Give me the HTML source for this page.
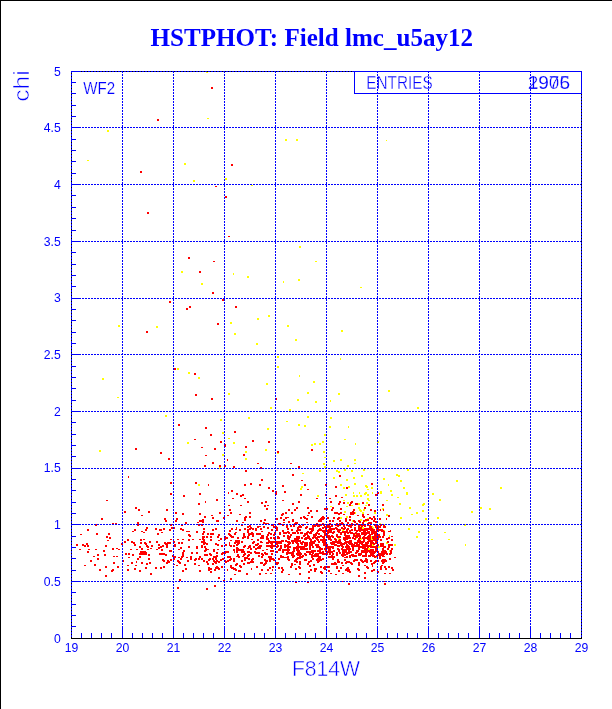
<!DOCTYPE html>
<html><head><meta charset="utf-8"><title>HSTPHOT: Field lmc_u5ay12</title>
<style>html,body{margin:0;padding:0;background:#fff;width:612px;height:709px;overflow:hidden}</style></head>
<body>
<svg width="612" height="709" viewBox="0 0 612 709" style="display:block;position:absolute;left:0;top:0">
<rect x="0" y="0" width="612" height="709" fill="#fff"/>
<g shape-rendering="crispEdges">
<rect x="0" y="0" width="612" height="1" fill="#000"/><rect x="0" y="0" width="1" height="709" fill="#000"/>
</g>
<path shape-rendering="crispEdges" fill="#ffff00" d="M206 71h2v2h-2zM207 118h2v1h-2zM107 130h2v2h-2zM87 160h2v1h-2zM184 163h2v2h-2zM193 180h2v2h-2zM285 139h2v2h-2zM296 139h2v2h-2zM225 178h2v2h-2zM251 185h2v1h-2zM386 140h1v1h-1zM388 390h2v2h-2zM417 407h2v2h-2zM379 433h1v1h-1zM377 441h2v2h-2zM181 271h2v2h-2zM201 283h2v2h-2zM118 325h2v2h-2zM156 326h2v2h-2zM177 368h2v2h-2zM188 372h2v2h-2zM198 377h2v2h-2zM102 378h2v2h-2zM117 397h2v1h-2zM299 246h2v2h-2zM315 261h2v1h-2zM233 273h1v2h-1zM247 276h2v2h-2zM283 281h1v2h-1zM298 279h2v2h-2zM360 287h2v1h-2zM268 315h2v2h-2zM257 318h2v2h-2zM230 322h2v2h-2zM287 325h2v2h-2zM234 333h2v2h-2zM341 330h2v2h-2zM295 339h2v2h-2zM256 343h2v2h-2zM277 356h2v2h-2zM340 358h1v2h-1zM277 366h2v2h-2zM299 375h1v2h-1zM313 381h2v2h-2zM266 383h2v2h-2zM326 380h2v1h-2zM228 393h2v2h-2zM307 392h2v2h-2zM338 393h2v2h-2zM297 399h2v2h-2zM330 400h1v2h-1zM315 401h2v2h-2zM270 407h2v2h-2zM289 409h2v2h-2zM165 415h2v2h-2zM220 419h2v2h-2zM222 432h2v2h-2zM187 442h2v2h-2zM99 450h2v2h-2zM222 454h2v2h-2zM219 467h2v2h-2zM198 484h2v2h-2zM248 417h2v2h-2zM267 428h2v2h-2zM228 438h2v1h-2zM233 442h2v2h-2zM265 449h2v2h-2zM245 451h2v2h-2zM245 458h2v2h-2zM307 416h2v2h-2zM286 421h2v1h-2zM298 424h2v2h-2zM304 425h2v2h-2zM324 434h2v2h-2zM322 441h2v2h-2zM319 443h2v2h-2zM314 443h2v2h-2zM311 444h2v2h-2zM277 453h2v1h-2zM323 451h2v2h-2zM324 457h2v1h-2zM323 463h2v2h-2zM324 466h2v2h-2zM289 468h2v2h-2zM319 470h2v2h-2zM302 473h2v1h-2zM301 486h2v2h-2zM300 488h2v2h-2zM317 495h2v2h-2zM330 417h2v2h-2zM329 426h2v2h-2zM348 426h1v2h-1zM344 439h2v1h-2zM355 443h1v2h-1zM333 460h2v2h-2zM340 459h2v2h-2zM354 459h2v2h-2zM354 463h2v1h-2zM347 465h2v2h-2zM379 433h1v2h-1zM377 441h2v2h-2zM336 470h2v2h-2zM338 471h2v2h-2zM344 469h2v2h-2zM351 470h2v2h-2zM363 469h2v2h-2zM361 475h2v2h-2zM333 477h2v2h-2zM353 477h2v2h-2zM346 479h2v2h-2zM354 483h2v2h-2zM340 484h2v2h-2zM365 485h2v2h-2zM366 486h2v2h-2zM343 487h2v2h-2zM348 486h2v2h-2zM371 487h2v2h-2zM367 489h2v1h-2zM353 492h1v2h-1zM359 492h1v2h-1zM365 492h2v2h-2zM372 492h1v2h-1zM364 493h2v2h-2zM345 494h2v2h-2zM353 495h2v2h-2zM356 495h2v2h-2zM360 495h2v2h-2zM367 494h2v2h-2zM367 498h2v2h-2zM366 502h2v2h-2zM407 469h2v2h-2zM396 474h2v2h-2zM398 475h2v2h-2zM383 478h2v2h-2zM400 480h2v2h-2zM388 484h1v2h-1zM403 487h2v2h-2zM390 490h2v2h-2zM380 491h2v3h-2zM406 492h2v2h-2zM406 493h2v2h-2zM391 494h2v2h-2zM397 497h2v1h-2zM399 503h2v2h-2zM423 503h2v2h-2zM422 504h2v2h-2zM409 507h2v2h-2zM422 510h2v1h-2zM456 480h2v2h-2zM500 487h2v2h-2zM432 493h2v2h-2zM439 499h2v2h-2zM480 507h2v2h-2zM489 508h2v2h-2zM471 511h2v2h-2zM437 517h2v2h-2zM430 524h2v2h-2zM464 524h2v2h-2zM444 532h2v1h-2zM431 539h2v1h-2zM448 539h2v1h-2zM465 544h1v2h-1zM416 512h2v2h-2zM422 510h2v2h-2zM411 514h2v1h-2zM400 517h2v2h-2zM425 518h2v2h-2zM408 528h2v2h-2zM418 531h2v2h-2zM416 536h2v2h-2zM394 544h2v2h-2zM343 500h2v1h-2zM368 500h2v1h-2zM347 502h2v2h-2zM358 503h2v2h-2zM351 505h2v1h-2zM330 506h2v1h-2zM346 506h2v1h-2zM365 505h2v1h-2zM358 507h2v2h-2zM359 509h2v2h-2zM360 510h2v2h-2zM363 509h2v2h-2zM344 511h2v2h-2zM354 512h2v2h-2zM362 512h2v2h-2zM374 512h2v2h-2zM340 517h2v2h-2zM346 516h2v2h-2zM367 518h2v2h-2zM360 519h2v2h-2zM352 520h2v2h-2zM365 520h2v2h-2zM386 500h2v1h-2zM382 508h2v2h-2zM386 514h2v2h-2zM383 524h2v2h-2zM379 523h2v2h-2zM383 530h2v2h-2zM389 535h1v2h-1zM389 550h2v2h-2zM386 543h2v1h-2zM378 546h2v2h-2zM375 557h2v1h-2zM379 523h2v2h-2zM383 524h2v2h-2zM377 526h2v2h-2zM378 529h2v2h-2zM382 530h2v2h-2zM372 527h2v2h-2zM372 532h2v2h-2zM371 538h2v2h-2zM372 544h2v2h-2zM376 548h2v2h-2zM386 542h2v2h-2zM375 556h2v2h-2zM354 533h2v2h-2zM355 537h2v2h-2zM360 526h2v2h-2zM360 538h2v2h-2zM363 544h2v2h-2zM360 546h2v2h-2zM368 548h2v2h-2zM342 529h2v2h-2zM354 533h2v2h-2zM360 526h2v2h-2zM362 527h2v2h-2zM371 526h2v2h-2zM373 529h2v2h-2zM355 537h2v2h-2zM371 538h2v2h-2zM338 538h2v2h-2zM360 541h2v2h-2zM363 544h2v2h-2zM360 546h2v2h-2zM368 548h2v2h-2zM372 544h2v2h-2zM375 556h2v2h-2zM356 536h2v2h-2zM370 536h2v2h-2z"/>
<path shape-rendering="crispEdges" fill="#ff0000" d="M211 87h2v2h-2zM157 119h2v2h-2zM140 171h2v2h-2zM215 186h2v1h-2zM147 212h2v2h-2zM231 164h2v2h-2zM225 196h2v2h-2zM228 236h2v1h-2zM188 257h2v2h-2zM213 261h2v1h-2zM199 271h2v2h-2zM212 292h2v2h-2zM169 301h2v2h-2zM222 299h2v2h-2zM189 306h2v2h-2zM186 308h2v2h-2zM217 323h2v2h-2zM146 331h2v2h-2zM174 368h2v2h-2zM194 373h2v2h-2zM195 394h2v2h-2zM211 398h2v2h-2zM235 306h2v2h-2zM275 398h2v2h-2zM178 424h2v2h-2zM205 427h2v2h-2zM210 434h2v2h-2zM194 439h2v1h-2zM220 441h2v2h-2zM201 447h2v1h-2zM214 448h2v2h-2zM135 448h2v2h-2zM160 452h2v2h-2zM205 455h2v1h-2zM168 458h2v2h-2zM212 462h2v2h-2zM204 465h2v2h-2zM219 465h2v2h-2zM128 476h1v2h-1zM170 482h2v2h-2zM195 482h2v2h-2zM208 484h1v2h-1zM170 493h2v2h-2zM199 493h2v2h-2zM183 495h2v2h-2zM216 499h2v2h-2zM205 501h1v2h-1zM198 503h2v2h-2zM234 431h2v2h-2zM252 440h2v2h-2zM268 441h2v2h-2zM224 444h2v2h-2zM224 446h2v1h-2zM245 446h2v2h-2zM243 454h2v2h-2zM227 459h1v2h-1zM257 463h2v1h-2zM224 465h2v2h-2zM233 466h2v2h-2zM260 467h2v2h-2zM311 449h2v2h-2zM277 451h2v2h-2zM290 463h2v1h-2zM298 466h2v2h-2zM245 470h2v2h-2zM261 479h2v2h-2zM250 483h2v2h-2zM244 484h2v2h-2zM259 484h2v2h-2zM268 487h2v2h-2zM231 490h2v2h-2zM272 490h2v2h-2zM228 492h1v2h-1zM236 493h2v2h-2zM242 494h2v2h-2zM240 495h2v2h-2zM232 498h2v1h-2zM244 498h2v1h-2zM247 501h2v2h-2zM261 502h2v2h-2zM265 501h2v2h-2zM275 491h2v4h-2zM292 474h2v2h-2zM301 480h2v1h-2zM304 484h2v2h-2zM282 485h2v2h-2zM325 484h2v2h-2zM307 489h2v1h-2zM284 491h2v2h-2zM300 494h2v2h-2zM316 498h2v1h-2zM339 475h2v2h-2zM371 483h2v2h-2zM335 486h2v2h-2zM346 487h2v2h-2zM377 492h2v2h-2zM375 494h2v2h-2zM325 494h2v2h-2zM335 495h2v2h-2zM341 497h2v1h-2zM329 498h2v1h-2zM177 587h2v2h-2zM206 588h2v2h-2zM214 585h2v2h-2zM179 579h2v2h-2zM218 577h2v2h-2zM223 580h2v2h-2zM230 578h2v2h-2zM384 583h2v2h-2zM383 581h2v1h-2zM106 500h2v1h-2zM101 518h2v2h-2zM95 524h2v2h-2zM112 523h2v2h-2zM115 523h2v2h-2zM87 529h2v2h-2zM96 533h2v2h-2zM80 534h2v1h-2zM108 533h2v2h-2zM106 536h2v2h-2zM109 537h2v2h-2zM107 540h2v1h-2zM76 544h2v2h-2zM82 544h2v2h-2zM84 545h2v2h-2zM86 543h2v2h-2zM87 545h2v2h-2zM105 545h2v2h-2zM112 548h2v2h-2zM116 548h2v1h-2zM118 549h2v1h-2zM79 549h2v1h-2zM88 549h2v1h-2zM95 549h2v1h-2zM103 550h2v2h-2zM87 551h2v2h-2zM97 554h2v2h-2zM104 554h2v2h-2zM93 556h2v1h-2zM113 556h2v1h-2zM116 556h2v1h-2zM97 558h2v2h-2zM90 560h2v2h-2zM113 562h2v2h-2zM94 564h2v2h-2zM84 565h2v1h-2zM105 566h2v2h-2zM117 566h2v2h-2zM99 569h2v2h-2zM112 569h2v2h-2zM111 570h2v2h-2zM105 575h2v2h-2zM121 543h2v2h-2zM135 507h2v2h-2zM138 509h2v2h-2zM124 511h2v2h-2zM148 511h2v2h-2zM166 509h2v2h-2zM141 515h2v1h-2zM164 518h2v2h-2zM165 520h2v2h-2zM137 522h2v2h-2zM137 524h2v2h-2zM170 524h2v2h-2zM146 527h2v2h-2zM134 529h2v2h-2zM145 529h2v2h-2zM132 531h2v1h-2zM141 531h2v1h-2zM143 532h2v1h-2zM155 528h2v2h-2zM159 529h2v2h-2zM160 529h2v2h-2zM163 528h2v2h-2zM161 532h2v1h-2zM157 533h2v2h-2zM169 529h2v2h-2zM171 527h2v2h-2zM127 539h2v2h-2zM140 539h2v2h-2zM143 539h2v1h-2zM124 541h2v2h-2zM131 541h2v2h-2zM133 542h2v2h-2zM134 544h2v2h-2zM140 542h2v2h-2zM144 542h2v2h-2zM145 543h2v2h-2zM149 541h2v2h-2zM146 545h2v2h-2zM147 546h2v2h-2zM151 545h2v2h-2zM139 546h2v2h-2zM150 548h2v1h-2zM141 548h2v2h-2zM130 549h2v1h-2zM136 549h2v1h-2zM147 549h2v1h-2zM156 541h2v2h-2zM158 544h2v2h-2zM162 545h2v2h-2zM160 546h2v2h-2zM158 547h2v2h-2zM156 549h2v1h-2zM161 549h2v2h-2zM164 542h2v2h-2zM165 543h2v2h-2zM166 544h2v2h-2zM166 546h2v2h-2zM167 542h2v2h-2zM169 542h2v2h-2zM170 539h2v1h-2zM169 550h2v2h-2zM170 550h2v2h-2zM125 553h2v2h-2zM128 553h2v2h-2zM132 554h2v2h-2zM140 551h2v2h-2zM142 551h2v2h-2zM144 551h2v2h-2zM139 553h2v2h-2zM141 553h2v2h-2zM143 553h2v2h-2zM145 552h2v2h-2zM145 553h2v2h-2zM148 554h2v2h-2zM159 553h2v2h-2zM161 553h2v2h-2zM163 553h2v2h-2zM165 554h2v2h-2zM128 557h2v1h-2zM139 556h2v2h-2zM137 558h2v2h-2zM148 558h2v2h-2zM122 560h2v2h-2zM131 562h2v2h-2zM136 561h1v2h-1zM141 562h2v2h-2zM149 562h2v2h-2zM146 563h2v2h-2zM127 565h2v1h-2zM135 565h2v1h-2zM145 567h2v2h-2zM127 569h2v2h-2zM134 568h2v2h-2zM139 570h2v2h-2zM150 573h2v2h-2zM162 559h2v2h-2zM163 560h2v2h-2zM167 560h2v2h-2zM166 562h2v2h-2zM168 561h2v2h-2zM170 559h2v2h-2zM172 555h2v2h-2zM163 566h2v2h-2zM160 567h2v2h-2zM155 567h2v2h-2zM175 512h2v2h-2zM182 513h2v2h-2zM199 513h2v2h-2zM219 512h2v2h-2zM211 515h2v1h-2zM204 516h2v2h-2zM212 517h2v2h-2zM223 517h2v2h-2zM176 518h2v2h-2zM175 520h2v2h-2zM199 520h2v2h-2zM201 520h2v2h-2zM202 519h2v2h-2zM202 521h2v2h-2zM216 520h2v2h-2zM217 520h2v2h-2zM197 522h2v1h-2zM185 522h2v2h-2zM181 524h2v2h-2zM198 524h2v2h-2zM201 524h2v2h-2zM173 527h2v2h-2zM180 528h2v2h-2zM182 529h2v2h-2zM203 528h2v2h-2zM212 529h2v2h-2zM215 528h2v2h-2zM186 531h2v1h-2zM188 531h2v1h-2zM196 531h2v2h-2zM203 531h2v2h-2zM202 533h2v2h-2zM207 533h2v2h-2zM210 533h2v2h-2zM212 533h2v2h-2zM188 534h2v2h-2zM218 534h2v2h-2zM189 535h2v2h-2zM217 536h2v2h-2zM202 536h2v2h-2zM203 536h2v2h-2zM206 536h2v2h-2zM210 536h2v2h-2zM177 539h2v1h-2zM182 539h2v1h-2zM188 539h2v2h-2zM192 539h2v1h-2zM199 539h2v1h-2zM202 538h2v2h-2zM203 539h2v2h-2zM210 539h2v2h-2zM220 538h2v2h-2zM218 540h2v1h-2zM173 541h2v2h-2zM178 542h2v2h-2zM181 542h2v2h-2zM201 541h2v2h-2zM203 541h2v2h-2zM204 542h2v2h-2zM203 543h2v2h-2zM206 543h2v2h-2zM174 544h2v2h-2zM215 543h2v2h-2zM217 544h2v2h-2zM174 545h2v2h-2zM188 546h2v2h-2zM196 546h2v2h-2zM196 547h2v2h-2zM201 545h2v2h-2zM201 546h2v2h-2zM204 546h2v2h-2zM221 545h2v2h-2zM180 547h2v2h-2zM178 549h2v1h-2zM205 548h2v2h-2zM207 549h2v1h-2zM217 549h2v1h-2zM183 550h2v2h-2zM204 550h2v2h-2zM205 549h2v2h-2zM213 549h2v2h-2zM213 550h2v2h-2zM182 552h2v2h-2zM191 552h2v2h-2zM196 552h2v2h-2zM216 552h2v2h-2zM222 552h2v2h-2zM221 553h2v2h-2zM182 553h2v2h-2zM209 553h2v2h-2zM204 554h2v2h-2zM206 554h2v2h-2zM182 555h2v2h-2zM210 554h2v2h-2zM181 556h2v2h-2zM178 557h2v1h-2zM174 556h2v2h-2zM173 558h2v2h-2zM186 557h2v1h-2zM190 556h2v2h-2zM199 556h2v2h-2zM213 556h2v2h-2zM215 556h2v2h-2zM216 555h2v2h-2zM180 558h2v2h-2zM190 558h2v2h-2zM195 558h2v2h-2zM198 558h2v2h-2zM194 559h2v2h-2zM201 558h2v2h-2zM209 558h2v2h-2zM212 558h2v2h-2zM215 558h2v2h-2zM208 559h2v2h-2zM220 559h2v2h-2zM222 558h2v2h-2zM177 560h2v2h-2zM187 560h2v2h-2zM203 560h2v2h-2zM213 560h2v2h-2zM214 561h2v2h-2zM216 560h2v2h-2zM218 561h2v2h-2zM178 561h2v2h-2zM179 562h2v2h-2zM206 561h2v2h-2zM207 563h2v2h-2zM194 563h2v2h-2zM212 563h2v2h-2zM215 562h2v2h-2zM173 564h2v1h-2zM176 565h2v1h-2zM184 564h2v2h-2zM198 565h2v1h-2zM216 566h2v2h-2zM221 566h2v2h-2zM208 567h2v2h-2zM215 567h2v2h-2zM217 567h2v2h-2zM210 568h2v2h-2zM214 569h2v2h-2zM218 568h2v2h-2zM185 568h2v2h-2zM182 570h2v2h-2zM199 570h2v2h-2zM208 569h2v2h-2zM210 571h2v2h-2zM228 505h2v1h-2zM240 505h2v1h-2zM264 505h2v2h-2zM267 505h2v1h-2zM266 508h2v2h-2zM229 509h2v2h-2zM230 512h2v2h-2zM249 512h2v2h-2zM227 515h2v1h-2zM239 514h2v1h-2zM249 516h2v2h-2zM244 517h2v2h-2zM245 516h2v2h-2zM244 519h2v2h-2zM236 520h2v2h-2zM260 520h2v2h-2zM264 519h2v2h-2zM242 522h2v1h-2zM263 522h2v2h-2zM265 523h2v1h-2zM267 523h2v1h-2zM241 524h2v2h-2zM249 525h2v2h-2zM271 524h3v2h-3zM273 526h2v2h-2zM247 526h2v2h-2zM250 527h2v2h-2zM257 526h2v2h-2zM259 526h2v1h-2zM263 526h2v2h-2zM267 527h2v2h-2zM231 528h2v2h-2zM236 527h1v2h-1zM244 528h2v2h-2zM255 528h2v2h-2zM239 529h2v2h-2zM235 529h2v1h-2zM229 530h2v2h-2zM255 529h2v2h-2zM247 531h2v2h-2zM261 531h2v1h-2zM235 532h2v1h-2zM228 533h2v2h-2zM243 533h2v2h-2zM248 533h2v2h-2zM252 533h2v2h-2zM256 533h2v2h-2zM258 533h2v2h-2zM259 533h2v2h-2zM270 533h2v2h-2zM273 534h2v2h-2zM229 534h2v2h-2zM230 535h2v2h-2zM243 535h2v2h-2zM248 534h2v2h-2zM252 535h2v2h-2zM262 535h2v2h-2zM224 536h2v2h-2zM231 536h2v2h-2zM232 536h2v2h-2zM244 536h2v2h-2zM247 536h2v2h-2zM261 536h2v2h-2zM266 536h2v2h-2zM226 537h2v2h-2zM237 537h2v2h-2zM242 537h2v2h-2zM247 537h2v2h-2zM260 537h2v2h-2zM266 537h2v2h-2zM267 538h2v2h-2zM270 537h2v2h-2zM273 537h2v2h-2zM224 538h2v2h-2zM251 539h2v1h-2zM230 540h2v1h-2zM235 540h2v2h-2zM257 539h2v2h-2zM266 538h2v2h-2zM236 541h2v2h-2zM238 542h2v2h-2zM241 541h2v2h-2zM253 541h2v2h-2zM260 541h2v2h-2zM261 542h2v1h-2zM266 542h3v2h-3zM267 542h2v2h-2zM270 541h3v2h-3zM272 541h2v2h-2zM273 541h2v2h-2zM229 542h1v2h-1zM234 542h2v2h-2zM237 543h2v2h-2zM252 542h2v2h-2zM225 544h2v2h-2zM229 544h1v2h-1zM236 544h2v2h-2zM255 544h2v2h-2zM244 545h2v2h-2zM249 545h2v2h-2zM233 545h2v2h-2zM260 545h2v2h-2zM266 545h3v2h-3zM268 545h2v2h-2zM270 545h2v2h-2zM272 545h2v2h-2zM273 545h2v2h-2zM243 546h2v2h-2zM249 546h2v2h-2zM247 548h2v1h-2zM253 546h2v2h-2zM258 546h2v2h-2zM259 547h2v2h-2zM257 547h2v2h-2zM270 546h2v2h-2zM271 547h2v2h-2zM236 547h2v2h-2zM237 548h2v2h-2zM233 549h2v2h-2zM236 549h2v2h-2zM238 549h2v2h-2zM240 549h2v2h-2zM242 549h2v2h-2zM255 548h2v2h-2zM262 550h2v1h-2zM266 549h2v1h-2zM270 550h2v2h-2zM225 551h2v2h-2zM227 551h2v2h-2zM224 552h2v2h-2zM234 551h1v2h-1zM236 551h2v2h-2zM241 551h2v2h-2zM243 551h2v2h-2zM247 551h2v2h-2zM250 552h2v2h-2zM254 551h2v2h-2zM255 552h2v2h-2zM257 552h2v2h-2zM258 552h2v2h-2zM264 552h2v2h-2zM265 553h2v2h-2zM266 553h2v2h-2zM271 553h2v2h-2zM237 554h2v2h-2zM244 553h2v2h-2zM243 554h2v2h-2zM248 554h2v2h-2zM236 556h2v1h-2zM242 556h2v1h-2zM247 555h2v2h-2zM229 556h2v2h-2zM261 556h2v2h-2zM268 556h2v2h-2zM270 556h2v2h-2zM230 558h2v2h-2zM229 559h2v2h-2zM233 558h2v2h-2zM233 560h2v2h-2zM244 559h2v2h-2zM248 558h2v2h-2zM252 558h2v2h-2zM251 559h2v2h-2zM264 559h2v2h-2zM269 558h2v2h-2zM271 558h2v2h-2zM272 558h2v2h-2zM273 559h2v2h-2zM241 560h2v2h-2zM227 560h2v2h-2zM225 561h2v2h-2zM224 560h2v2h-2zM250 561h2v2h-2zM252 561h2v2h-2zM248 562h2v2h-2zM247 562h2v2h-2zM260 562h2v2h-2zM261 562h2v2h-2zM265 561h2v2h-2zM266 560h2v2h-2zM269 560h2v2h-2zM264 563h2v2h-2zM265 562h2v2h-2zM236 563h2v2h-2zM243 563h2v2h-2zM230 565h2v1h-2zM235 564h2v2h-2zM263 564h2v2h-2zM239 565h2v2h-2zM240 566h2v2h-2zM230 566h2v2h-2zM231 567h2v2h-2zM232 567h2v2h-2zM233 568h2v2h-2zM234 568h2v2h-2zM235 569h2v2h-2zM256 566h2v2h-2zM272 566h2v2h-2zM269 567h2v2h-2zM227 569h1v2h-1zM238 570h2v2h-2zM239 570h2v2h-2zM251 568h1v2h-1zM261 569h2v2h-2zM267 569h2v2h-2zM272 569h1v2h-1zM234 574h2v1h-2zM246 573h2v2h-2zM259 573h2v2h-2zM265 573h2v1h-2zM270 573h2v1h-2zM282 500h2v1h-2zM298 501h2v2h-2zM292 503h2v2h-2zM296 507h2v2h-2zM307 507h2v2h-2zM324 508h2v2h-2zM288 509h2v2h-2zM294 509h2v2h-2zM310 510h2v2h-2zM316 510h2v2h-2zM285 512h2v2h-2zM291 512h2v2h-2zM308 512h2v2h-2zM282 513h2v2h-2zM281 514h2v2h-2zM307 515h2v1h-2zM303 516h2v2h-2zM311 516h2v2h-2zM300 517h2v2h-2zM280 517h2v2h-2zM285 517h2v2h-2zM287 517h2v1h-2zM304 517h2v2h-2zM306 518h2v2h-2zM276 518h2v2h-2zM283 519h2v2h-2zM292 519h2v2h-2zM292 520h2v2h-2zM322 516h2v2h-2zM321 517h2v2h-2zM323 517h2v2h-2zM320 518h2v2h-2zM322 518h2v2h-2zM319 519h2v2h-2zM318 520h2v2h-2zM320 520h2v2h-2zM288 521h2v2h-2zM283 522h2v1h-2zM306 522h2v1h-2zM295 522h2v2h-2zM296 522h2v2h-2zM316 523h2v2h-2zM318 524h2v2h-2zM330 501h2v2h-2zM343 502h2v2h-2zM339 501h2v2h-2zM338 503h2v2h-2zM351 501h2v2h-2zM350 502h2v2h-2zM349 504h2v2h-2zM355 503h2v2h-2zM356 503h2v2h-2zM362 502h2v2h-2zM368 504h2v2h-2zM326 508h2v2h-2zM332 507h2v2h-2zM331 509h2v2h-2zM340 508h2v2h-2zM364 507h2v2h-2zM353 509h2v2h-2zM370 509h2v2h-2zM374 510h2v2h-2zM334 512h2v2h-2zM336 512h2v2h-2zM340 512h2v2h-2zM338 513h2v2h-2zM350 512h2v2h-2zM352 511h2v2h-2zM353 512h2v2h-2zM352 513h2v2h-2zM350 513h2v2h-2zM343 514h2v1h-2zM357 515h2v1h-2zM362 514h2v2h-2zM367 514h2v1h-2zM327 517h2v2h-2zM333 517h2v2h-2zM338 517h2v2h-2zM337 518h2v2h-2zM349 516h2v2h-2zM363 516h2v2h-2zM362 515h2v2h-2zM373 516h2v2h-2zM369 517h2v2h-2zM371 518h2v2h-2zM374 518h2v2h-2zM345 518h2v2h-2zM345 520h2v2h-2zM349 519h2v2h-2zM329 520h2v2h-2zM332 520h2v2h-2zM339 520h2v2h-2zM353 520h2v2h-2zM354 521h2v2h-2zM358 520h2v2h-2zM359 521h2v2h-2zM363 520h2v2h-2zM365 519h2v2h-2zM367 519h2v2h-2zM373 520h2v2h-2zM375 521h2v2h-2zM341 522h2v2h-2zM347 522h2v2h-2zM329 523h2v2h-2zM335 524h2v2h-2zM368 522h2v2h-2zM370 522h2v2h-2zM362 522h2v2h-2zM382 504h2v2h-2zM380 509h1v2h-1zM383 509h1v2h-1zM379 518h2v2h-2zM386 518h1v2h-1zM388 515h2v2h-2zM383 526h2v2h-2zM381 529h2v2h-2zM382 530h2v2h-2zM388 531h3v1h-3zM390 530h1v1h-1zM383 533h2v2h-2zM380 524h2v2h-2zM378 534h2v2h-2zM379 536h2v2h-2zM382 536h2v2h-2zM388 537h2v2h-2zM391 536h2v1h-2zM391 539h2v2h-2zM380 539h2v2h-2zM387 541h2v2h-2zM380 543h2v2h-2zM382 543h2v2h-2zM381 544h2v2h-2zM382 545h2v2h-2zM380 545h2v2h-2zM384 546h2v2h-2zM388 544h2v2h-2zM391 544h2v2h-2zM388 546h2v2h-2zM387 548h2v2h-2zM391 548h2v2h-2zM390 550h2v2h-2zM382 550h2v2h-2zM384 550h2v2h-2zM381 551h2v2h-2zM382 552h2v2h-2zM385 551h2v2h-2zM389 553h2v2h-2zM380 553h2v2h-2zM381 554h2v2h-2zM379 555h2v2h-2zM383 556h2v1h-2zM379 557h2v2h-2zM394 557h2v1h-2zM389 558h2v2h-2zM382 559h2v2h-2zM384 559h2v2h-2zM385 560h2v2h-2zM381 560h2v2h-2zM383 561h2v2h-2zM382 562h2v2h-2zM377 560h2v2h-2zM381 565h2v1h-2zM380 566h2v2h-2zM380 568h2v2h-2zM384 566h2v2h-2zM385 568h2v2h-2zM388 566h2v2h-2zM391 567h2v2h-2zM392 569h2v2h-2zM377 571h2v2h-2zM384 573h2v1h-2zM389 573h2v1h-2zM280 556h2v2h-2zM278 558h2v2h-2zM284 557h3v1h-3zM287 556h2v2h-2zM287 558h2v2h-2zM288 559h2v2h-2zM292 556h2v2h-2zM293 555h2v2h-2zM296 558h2v2h-2zM295 559h2v2h-2zM294 560h2v2h-2zM297 557h2v2h-2zM299 557h2v2h-2zM301 556h2v2h-2zM304 559h3v2h-3zM305 559h2v2h-2zM299 561h2v2h-2zM299 563h2v2h-2zM296 561h2v2h-2zM275 562h2v2h-2zM277 562h2v2h-2zM276 563h2v2h-2zM291 563h2v2h-2zM290 566h2v2h-2zM291 564h2v2h-2zM294 564h2v1h-2zM308 561h2v2h-2zM307 563h2v2h-2zM311 556h2v2h-2zM312 558h2v2h-2zM310 560h2v2h-2zM313 564h2v2h-2zM317 558h2v2h-2zM319 558h2v2h-2zM318 557h2v2h-2zM316 559h2v2h-2zM318 560h2v2h-2zM320 559h2v2h-2zM317 561h2v2h-2zM322 558h2v2h-2zM319 556h2v2h-2zM309 565h2v2h-2zM278 567h2v2h-2zM281 567h2v2h-2zM282 569h2v2h-2zM281 571h2v2h-2zM295 568h2v2h-2zM298 566h2v2h-2zM299 567h2v2h-2zM310 569h2v2h-2zM308 571h2v2h-2zM314 568h2v2h-2zM315 568h2v2h-2zM314 570h2v2h-2zM320 566h2v2h-2zM324 566h2v2h-2zM324 568h2v2h-2zM323 567h2v2h-2zM320 571h2v2h-2zM321 572h2v2h-2zM288 574h2v1h-2zM299 573h2v2h-2zM308 577h2v2h-2zM295 582h2v1h-2zM307 582h2v1h-2zM321 581h2v1h-2zM333 556h2v2h-2zM332 558h2v2h-2zM337 559h2v2h-2zM337 561h2v2h-2zM338 561h2v2h-2zM344 557h2v1h-2zM344 559h2v2h-2zM349 557h2v1h-2zM352 556h2v1h-2zM354 559h3v2h-3zM356 559h2v2h-2zM353 560h2v2h-2zM360 559h2v2h-2zM361 560h2v2h-2zM362 561h2v2h-2zM364 560h2v2h-2zM366 559h2v2h-2zM366 561h2v2h-2zM365 558h2v2h-2zM370 560h2v2h-2zM374 561h2v2h-2zM375 560h2v2h-2zM373 562h2v2h-2zM371 563h2v2h-2zM372 565h1v2h-1zM334 562h2v2h-2zM333 563h2v2h-2zM331 563h2v2h-2zM335 563h2v2h-2zM341 562h2v2h-2zM342 565h2v1h-2zM346 561h2v2h-2zM348 561h2v2h-2zM345 562h2v2h-2zM350 562h2v2h-2zM351 563h2v2h-2zM358 562h2v2h-2zM358 564h2v2h-2zM326 566h2v2h-2zM328 566h2v2h-2zM336 566h2v2h-2zM336 567h2v2h-2zM340 567h2v2h-2zM347 567h2v2h-2zM346 568h2v2h-2zM345 569h2v2h-2zM348 569h2v2h-2zM349 571h2v2h-2zM347 570h2v2h-2zM357 568h2v2h-2zM358 569h2v2h-2zM364 565h2v1h-2zM366 566h2v2h-2zM367 567h2v2h-2zM373 569h2v2h-2zM371 570h2v2h-2zM328 570h2v2h-2zM338 570h2v2h-2zM330 573h2v1h-2zM335 574h2v1h-2zM342 573h2v1h-2zM364 572h2v2h-2zM358 575h2v2h-2zM364 577h2v2h-2zM342 581h2v1h-2zM348 583h2v2h-2zM276 527h2v2h-2zM275 526h2v2h-2zM278 523h2v2h-2zM279 523h2v2h-2zM278 523h2v2h-2zM275 526h2v2h-2zM282 524h2v2h-2zM291 529h2v2h-2zM290 525h2v2h-2zM294 523h2v2h-2zM293 525h2v2h-2zM286 524h2v2h-2zM287 528h2v2h-2zM286 526h2v2h-2zM298 526h2v2h-2zM295 523h2v2h-2zM297 527h2v2h-2zM299 525h2v2h-2zM300 526h2v2h-2zM297 528h2v2h-2zM302 524h2v2h-2zM310 528h2v2h-2zM312 525h2v2h-2zM315 524h2v2h-2zM309 528h2v2h-2zM306 526h2v2h-2zM305 527h2v2h-2zM312 526h2v2h-2zM314 525h2v2h-2zM312 527h2v2h-2zM319 528h2v2h-2zM324 526h2v2h-2zM322 523h2v2h-2zM322 527h2v2h-2zM325 528h2v2h-2zM318 525h2v2h-2zM322 523h2v2h-2zM320 524h2v2h-2zM316 523h2v2h-2zM323 524h2v2h-2zM317 525h2v2h-2zM326 526h2v2h-2zM331 528h2v2h-2zM333 528h2v2h-2zM328 525h2v2h-2zM329 528h2v2h-2zM335 524h2v2h-2zM327 524h2v2h-2zM327 526h2v2h-2zM331 525h2v2h-2zM325 526h2v2h-2zM329 526h2v2h-2zM335 527h2v2h-2zM341 527h2v2h-2zM336 528h2v2h-2zM343 528h2v2h-2zM343 525h2v2h-2zM339 524h2v2h-2zM342 523h2v2h-2zM336 524h2v2h-2zM337 525h2v2h-2zM336 523h2v2h-2zM337 524h2v2h-2zM339 523h2v2h-2zM344 527h2v2h-2zM348 525h2v2h-2zM349 524h2v2h-2zM354 529h2v2h-2zM350 526h2v2h-2zM346 524h2v2h-2zM349 525h2v2h-2zM354 524h2v2h-2zM346 529h2v2h-2zM351 524h2v2h-2zM351 523h2v2h-2zM351 529h2v2h-2zM354 527h2v2h-2zM348 525h2v2h-2zM347 528h2v2h-2zM364 525h2v2h-2zM358 528h2v2h-2zM366 528h2v2h-2zM364 528h2v2h-2zM363 524h2v2h-2zM361 525h2v2h-2zM356 523h2v2h-2zM358 525h2v2h-2zM363 529h2v2h-2zM360 529h2v2h-2zM366 529h2v2h-2zM359 524h2v2h-2zM358 524h2v2h-2zM358 527h2v2h-2zM365 528h2v2h-2zM360 527h2v2h-2zM364 524h2v2h-2zM376 528h2v2h-2zM375 526h2v2h-2zM368 528h2v2h-2zM370 528h2v2h-2zM377 525h2v2h-2zM370 529h2v2h-2zM374 524h2v2h-2zM367 524h2v2h-2zM376 528h2v2h-2zM368 528h2v2h-2zM377 527h2v2h-2zM370 526h2v2h-2zM367 523h2v2h-2zM377 527h2v2h-2zM372 529h2v2h-2zM371 528h2v2h-2zM375 524h2v2h-2zM369 525h2v2h-2zM369 527h2v2h-2zM369 526h2v2h-2zM367 528h2v2h-2zM370 526h2v2h-2zM283 532h2v2h-2zM283 532h2v2h-2zM279 532h2v2h-2zM274 532h2v2h-2zM276 529h2v2h-2zM282 530h2v2h-2zM279 533h2v2h-2zM288 532h2v2h-2zM290 534h2v2h-2zM285 532h2v2h-2zM287 531h2v2h-2zM292 532h2v2h-2zM290 534h2v2h-2zM294 532h2v2h-2zM300 532h2v2h-2zM301 532h2v2h-2zM300 532h2v2h-2zM304 533h2v2h-2zM303 535h2v2h-2zM297 532h2v2h-2zM304 534h2v2h-2zM296 530h2v2h-2zM299 529h2v2h-2zM297 529h2v2h-2zM313 534h2v2h-2zM306 533h2v2h-2zM311 530h2v2h-2zM314 535h2v2h-2zM307 535h2v2h-2zM309 532h2v2h-2zM315 534h2v2h-2zM306 532h2v2h-2zM310 531h2v2h-2zM307 531h2v2h-2zM312 529h2v2h-2zM310 532h2v2h-2zM318 533h2v2h-2zM320 529h2v2h-2zM325 534h2v2h-2zM325 530h2v2h-2zM318 529h2v2h-2zM323 531h2v2h-2zM316 532h2v2h-2zM324 534h2v2h-2zM317 530h2v2h-2zM324 532h2v2h-2zM322 530h2v2h-2zM315 533h2v2h-2zM319 529h2v2h-2zM324 533h2v2h-2zM323 530h2v2h-2zM326 534h2v2h-2zM330 531h2v2h-2zM331 535h2v2h-2zM328 530h2v2h-2zM330 530h2v2h-2zM326 530h2v2h-2zM326 530h2v2h-2zM328 531h2v2h-2zM333 531h2v2h-2zM330 530h2v2h-2zM329 529h2v2h-2zM328 529h2v2h-2zM332 532h2v2h-2zM327 532h2v2h-2zM336 534h2v2h-2zM340 532h2v2h-2zM344 531h2v2h-2zM340 533h2v2h-2zM345 531h2v2h-2zM344 533h2v2h-2zM342 531h2v2h-2zM339 529h2v2h-2zM337 529h2v2h-2zM343 531h2v2h-2zM337 530h2v2h-2zM344 534h2v2h-2zM342 531h2v2h-2zM338 531h2v2h-2zM347 532h2v2h-2zM348 535h2v2h-2zM355 532h2v2h-2zM348 535h2v2h-2zM349 531h2v2h-2zM345 531h2v2h-2zM350 532h2v2h-2zM347 532h2v2h-2zM345 531h2v2h-2zM346 531h2v2h-2zM346 529h2v2h-2zM349 530h2v2h-2zM351 532h2v2h-2zM353 533h2v2h-2zM353 534h2v2h-2zM359 535h2v2h-2zM357 533h2v2h-2zM362 529h2v2h-2zM364 534h2v2h-2zM362 533h2v2h-2zM364 530h2v2h-2zM361 532h2v2h-2zM364 534h2v2h-2zM364 533h2v2h-2zM365 533h2v2h-2zM363 530h2v2h-2zM356 530h2v2h-2zM359 530h2v2h-2zM364 532h2v2h-2zM362 533h2v2h-2zM363 532h2v2h-2zM356 534h2v2h-2zM363 532h2v2h-2zM361 533h2v2h-2zM356 533h2v2h-2zM358 529h2v2h-2zM358 533h2v2h-2zM374 535h2v2h-2zM372 531h2v2h-2zM371 533h2v2h-2zM375 533h2v2h-2zM373 529h2v2h-2zM368 531h2v2h-2zM374 531h2v2h-2zM372 529h2v2h-2zM367 531h2v2h-2zM374 533h2v2h-2zM374 531h2v2h-2zM372 532h2v2h-2zM371 530h2v2h-2zM376 530h2v2h-2zM377 535h2v2h-2zM366 532h2v2h-2zM375 535h2v2h-2zM371 531h2v2h-2zM368 535h2v2h-2zM368 532h2v2h-2zM367 532h2v2h-2zM377 530h2v2h-2zM375 532h2v2h-2zM376 533h2v2h-2zM369 534h2v2h-2zM371 529h2v2h-2zM366 532h2v2h-2zM277 536h2v2h-2zM278 537h2v2h-2zM283 535h2v2h-2zM282 540h2v2h-2zM275 541h2v2h-2zM281 540h2v2h-2zM277 537h2v2h-2zM278 541h2v2h-2zM288 538h2v2h-2zM287 535h2v2h-2zM285 540h2v2h-2zM287 541h2v2h-2zM287 537h2v2h-2zM289 536h2v2h-2zM288 541h2v2h-2zM293 540h2v2h-2zM291 540h2v2h-2zM294 538h2v2h-2zM295 539h2v2h-2zM299 540h2v2h-2zM301 537h2v2h-2zM295 541h2v2h-2zM296 538h2v2h-2zM298 537h2v2h-2zM302 541h2v2h-2zM297 539h2v2h-2zM297 538h2v2h-2zM298 536h2v2h-2zM296 536h2v2h-2zM304 538h2v2h-2zM297 540h2v2h-2zM305 538h2v2h-2zM307 536h2v2h-2zM308 536h2v2h-2zM307 537h2v2h-2zM310 540h2v2h-2zM312 537h2v2h-2zM309 538h2v2h-2zM308 537h2v2h-2zM305 537h2v2h-2zM314 536h2v2h-2zM310 539h2v2h-2zM313 536h2v2h-2zM307 536h2v2h-2zM309 538h2v2h-2zM314 540h2v2h-2zM314 535h2v2h-2zM322 540h2v2h-2zM320 539h2v2h-2zM315 537h2v2h-2zM324 540h2v2h-2zM324 541h2v2h-2zM317 536h2v2h-2zM316 538h2v2h-2zM322 541h2v2h-2zM322 539h2v2h-2zM323 538h2v2h-2zM320 535h2v2h-2zM323 536h2v2h-2zM324 539h2v2h-2zM318 536h2v2h-2zM317 539h2v2h-2zM322 536h2v2h-2zM316 538h2v2h-2zM329 536h2v2h-2zM331 535h2v2h-2zM328 538h2v2h-2zM335 539h2v2h-2zM334 538h2v2h-2zM327 536h2v2h-2zM335 539h2v2h-2zM328 535h2v2h-2zM330 539h2v2h-2zM329 537h2v2h-2zM332 541h2v2h-2zM327 535h2v2h-2zM328 538h2v2h-2zM332 536h2v2h-2zM343 538h2v2h-2zM337 541h2v2h-2zM338 540h2v2h-2zM338 536h2v2h-2zM343 537h2v2h-2zM345 538h2v2h-2zM337 536h2v2h-2zM339 539h2v2h-2zM345 536h2v2h-2zM339 536h2v2h-2zM345 536h2v2h-2zM336 535h2v2h-2zM339 540h2v2h-2zM344 539h2v2h-2zM345 541h2v2h-2zM347 541h2v2h-2zM353 535h2v2h-2zM352 537h2v2h-2zM349 537h2v2h-2zM347 535h2v2h-2zM348 537h2v2h-2zM355 536h2v2h-2zM355 536h2v2h-2zM349 540h2v2h-2zM354 538h2v2h-2zM346 538h2v2h-2zM349 541h2v2h-2zM347 537h2v2h-2zM355 535h2v2h-2zM350 540h2v2h-2zM353 535h2v2h-2zM346 535h2v2h-2zM358 539h2v2h-2zM365 537h2v2h-2zM358 541h2v2h-2zM362 537h2v2h-2zM363 537h2v2h-2zM358 535h2v2h-2zM363 540h2v2h-2zM362 541h2v2h-2zM356 536h2v2h-2zM360 541h2v2h-2zM365 537h2v2h-2zM358 538h2v2h-2zM361 541h2v2h-2zM357 540h2v2h-2zM363 540h2v2h-2zM363 539h2v2h-2zM359 537h2v2h-2zM359 540h2v2h-2zM356 536h2v2h-2zM363 536h2v2h-2zM356 535h2v2h-2zM370 541h2v2h-2zM376 541h2v2h-2zM369 536h2v2h-2zM367 538h2v2h-2zM374 538h2v2h-2zM369 538h2v2h-2zM373 539h2v2h-2zM375 540h2v2h-2zM374 536h2v2h-2zM376 537h2v2h-2zM372 537h2v2h-2zM374 536h2v2h-2zM369 536h2v2h-2zM368 540h2v2h-2zM373 537h2v2h-2zM370 541h2v2h-2zM372 536h2v2h-2zM375 539h2v2h-2zM377 536h2v2h-2zM371 540h2v2h-2zM376 540h2v2h-2zM366 537h2v2h-2zM367 536h2v2h-2zM377 538h2v2h-2zM377 537h2v2h-2zM376 538h2v2h-2zM369 540h2v2h-2zM377 536h2v2h-2zM280 542h2v2h-2zM278 542h2v2h-2zM276 543h2v2h-2zM280 545h2v2h-2zM276 541h2v2h-2zM277 545h2v2h-2zM276 543h2v2h-2zM276 546h2v2h-2zM280 541h2v2h-2zM275 543h2v2h-2zM280 545h2v2h-2zM286 545h2v2h-2zM288 543h2v2h-2zM287 547h2v2h-2zM287 544h2v2h-2zM288 543h2v2h-2zM293 547h2v2h-2zM288 542h2v2h-2zM292 542h2v2h-2zM284 546h2v2h-2zM289 546h2v2h-2zM288 546h2v2h-2zM289 542h2v2h-2zM284 544h2v2h-2zM304 542h2v2h-2zM301 543h2v2h-2zM300 542h2v2h-2zM297 544h2v2h-2zM304 542h2v2h-2zM299 546h2v2h-2zM304 542h2v2h-2zM296 547h2v2h-2zM304 544h2v2h-2zM295 547h2v2h-2zM298 546h2v2h-2zM301 546h2v2h-2zM296 546h2v2h-2zM297 543h2v2h-2zM303 546h2v2h-2zM296 542h2v2h-2zM310 543h2v2h-2zM306 542h2v2h-2zM312 546h2v2h-2zM305 544h2v2h-2zM312 541h2v2h-2zM313 542h2v2h-2zM311 544h2v2h-2zM311 543h2v2h-2zM309 544h2v2h-2zM309 545h2v2h-2zM309 544h2v2h-2zM305 545h2v2h-2zM310 542h2v2h-2zM312 546h2v2h-2zM309 542h2v2h-2zM309 542h2v2h-2zM306 544h2v2h-2zM306 544h2v2h-2zM310 541h2v2h-2zM316 545h2v2h-2zM323 544h2v2h-2zM315 544h2v2h-2zM319 547h2v2h-2zM316 546h2v2h-2zM325 545h2v2h-2zM323 542h2v2h-2zM325 544h2v2h-2zM325 546h2v2h-2zM316 546h2v2h-2zM324 541h2v2h-2zM318 546h2v2h-2zM316 546h2v2h-2zM318 546h2v2h-2zM316 544h2v2h-2zM324 542h2v2h-2zM317 544h2v2h-2zM318 541h2v2h-2zM327 547h2v2h-2zM332 546h2v2h-2zM327 546h2v2h-2zM326 544h2v2h-2zM331 543h2v2h-2zM334 544h2v2h-2zM331 546h2v2h-2zM326 547h2v2h-2zM331 543h2v2h-2zM333 543h2v2h-2zM335 544h2v2h-2zM329 546h2v2h-2zM330 542h2v2h-2zM333 541h2v2h-2zM333 543h2v2h-2zM332 547h2v2h-2zM342 543h2v2h-2zM335 541h2v2h-2zM337 545h2v2h-2zM340 544h2v2h-2zM344 542h2v2h-2zM338 545h2v2h-2zM335 541h2v2h-2zM339 542h2v2h-2zM339 542h2v2h-2zM341 545h2v2h-2zM337 545h2v2h-2zM340 542h2v2h-2zM345 542h2v2h-2zM337 542h2v2h-2zM342 546h2v2h-2zM343 543h2v2h-2zM346 545h2v2h-2zM351 543h2v2h-2zM352 544h2v2h-2zM355 545h2v2h-2zM348 546h2v2h-2zM346 544h2v2h-2zM350 542h2v2h-2zM346 546h2v2h-2zM346 544h2v2h-2zM355 542h2v2h-2zM347 545h2v2h-2zM351 545h2v2h-2zM354 542h2v2h-2zM349 543h2v2h-2zM346 546h2v2h-2zM353 545h2v2h-2zM345 546h2v2h-2zM353 544h2v2h-2zM353 544h2v2h-2zM348 542h2v2h-2zM348 541h2v2h-2zM363 545h2v2h-2zM364 545h2v2h-2zM358 544h2v2h-2zM360 546h2v2h-2zM361 543h2v2h-2zM362 547h2v2h-2zM358 546h2v2h-2zM356 543h2v2h-2zM358 545h2v2h-2zM365 545h2v2h-2zM359 546h2v2h-2zM359 542h2v2h-2zM365 545h2v2h-2zM363 545h2v2h-2zM366 544h2v2h-2zM364 545h2v2h-2zM364 544h2v2h-2zM363 544h2v2h-2zM359 542h2v2h-2zM362 541h2v2h-2zM365 542h2v2h-2zM356 542h2v2h-2zM365 543h2v2h-2zM357 541h2v2h-2zM356 545h2v2h-2zM362 545h2v2h-2zM367 545h2v2h-2zM370 546h2v2h-2zM375 546h2v2h-2zM367 546h2v2h-2zM376 547h2v2h-2zM367 542h2v2h-2zM367 541h2v2h-2zM376 546h2v2h-2zM373 546h2v2h-2zM373 543h2v2h-2zM367 542h2v2h-2zM375 542h2v2h-2zM370 544h2v2h-2zM366 543h2v2h-2zM369 545h2v2h-2zM370 543h2v2h-2zM377 544h2v2h-2zM376 545h2v2h-2zM366 543h2v2h-2zM371 546h2v2h-2zM370 545h2v2h-2zM372 542h2v2h-2zM376 542h2v2h-2zM375 542h2v2h-2zM366 542h2v2h-2zM375 547h2v2h-2zM366 544h2v2h-2zM372 546h2v2h-2zM279 549h2v2h-2zM282 549h2v2h-2zM284 549h2v2h-2zM276 551h2v2h-2zM279 548h2v2h-2zM280 547h2v2h-2zM282 551h2v2h-2zM282 551h2v2h-2zM278 549h2v2h-2zM293 548h2v2h-2zM293 547h2v2h-2zM286 549h2v2h-2zM293 550h2v2h-2zM288 552h2v2h-2zM287 550h2v2h-2zM290 552h2v2h-2zM292 551h2v2h-2zM288 549h2v2h-2zM286 552h2v2h-2zM302 548h2v2h-2zM299 552h2v2h-2zM300 548h2v2h-2zM299 552h2v2h-2zM297 548h2v2h-2zM297 551h2v2h-2zM303 548h2v2h-2zM296 548h2v2h-2zM298 550h2v2h-2zM296 549h2v2h-2zM296 553h2v2h-2zM302 548h2v2h-2zM304 548h2v2h-2zM298 553h2v2h-2zM312 550h2v2h-2zM307 551h2v2h-2zM306 548h2v2h-2zM309 547h2v2h-2zM309 552h2v2h-2zM312 550h2v2h-2zM311 550h2v2h-2zM306 551h2v2h-2zM309 551h2v2h-2zM314 550h2v2h-2zM310 551h2v2h-2zM309 548h2v2h-2zM312 552h2v2h-2zM312 551h2v2h-2zM322 551h2v2h-2zM319 549h2v2h-2zM321 548h2v2h-2zM319 552h2v2h-2zM322 551h2v2h-2zM317 550h2v2h-2zM319 551h2v2h-2zM319 551h2v2h-2zM324 548h2v2h-2zM321 552h2v2h-2zM319 550h2v2h-2zM325 547h2v2h-2zM320 548h2v2h-2zM323 553h2v2h-2zM320 548h2v2h-2zM331 551h2v2h-2zM330 551h2v2h-2zM333 550h2v2h-2zM329 553h2v2h-2zM327 551h2v2h-2zM329 552h2v2h-2zM326 553h2v2h-2zM329 547h2v2h-2zM328 549h2v2h-2zM325 550h2v2h-2zM329 551h2v2h-2zM329 549h2v2h-2zM343 553h2v2h-2zM341 548h2v2h-2zM343 549h2v2h-2zM337 548h2v2h-2zM343 552h2v2h-2zM342 550h2v2h-2zM341 548h2v2h-2zM345 549h2v2h-2zM342 552h2v2h-2zM344 550h2v2h-2zM338 550h2v2h-2zM336 552h2v2h-2zM339 552h2v2h-2zM338 549h2v2h-2zM338 550h2v2h-2zM345 551h2v2h-2zM348 548h2v2h-2zM348 550h2v2h-2zM350 551h2v2h-2zM352 549h2v2h-2zM355 552h2v2h-2zM346 552h2v2h-2zM355 552h2v2h-2zM347 552h2v2h-2zM352 547h2v2h-2zM346 553h2v2h-2zM352 549h2v2h-2zM346 548h2v2h-2zM348 552h2v2h-2zM349 548h2v2h-2zM355 552h2v2h-2zM347 552h2v2h-2zM364 551h2v2h-2zM365 552h2v2h-2zM364 548h2v2h-2zM363 550h2v2h-2zM363 550h2v2h-2zM365 550h2v2h-2zM358 548h2v2h-2zM357 550h2v2h-2zM356 550h2v2h-2zM357 550h2v2h-2zM361 550h2v2h-2zM364 547h2v2h-2zM364 550h2v2h-2zM361 551h2v2h-2zM364 549h2v2h-2zM360 553h2v2h-2zM356 551h2v2h-2zM362 547h2v2h-2zM362 551h2v2h-2zM370 553h2v2h-2zM372 550h2v2h-2zM376 547h2v2h-2zM374 551h2v2h-2zM370 552h2v2h-2zM370 550h2v2h-2zM372 552h2v2h-2zM368 550h2v2h-2zM371 550h2v2h-2zM375 549h2v2h-2zM375 549h2v2h-2zM372 549h2v2h-2zM372 553h2v2h-2zM373 552h2v2h-2zM370 549h2v2h-2zM369 551h2v2h-2zM373 552h2v2h-2zM366 551h2v2h-2zM376 550h2v2h-2zM366 549h2v2h-2zM366 548h2v2h-2zM377 551h2v2h-2zM282 556h2v2h-2zM280 555h2v2h-2zM280 555h2v2h-2zM280 555h2v2h-2zM291 554h2v2h-2zM292 553h2v2h-2zM286 553h2v2h-2zM292 556h2v2h-2zM291 554h2v2h-2zM302 555h2v2h-2zM297 554h2v2h-2zM299 554h2v2h-2zM299 555h2v2h-2zM304 553h2v2h-2zM300 553h2v2h-2zM313 555h2v2h-2zM314 554h2v2h-2zM305 554h2v2h-2zM311 556h2v2h-2zM315 554h2v2h-2zM309 553h2v2h-2zM311 554h2v2h-2zM315 553h2v2h-2zM322 553h2v2h-2zM325 553h2v2h-2zM324 553h2v2h-2zM315 555h2v2h-2zM317 555h2v2h-2zM317 553h2v2h-2zM332 556h2v2h-2zM332 553h2v2h-2zM331 555h2v2h-2zM330 556h2v2h-2zM328 556h2v2h-2zM332 553h2v2h-2zM342 555h2v2h-2zM336 554h2v2h-2zM343 553h2v2h-2zM344 554h2v2h-2zM336 554h2v2h-2zM341 554h2v2h-2zM342 553h2v2h-2zM343 554h2v2h-2zM352 554h2v2h-2zM349 555h2v2h-2zM355 555h2v2h-2zM351 554h2v2h-2zM346 556h2v2h-2zM353 555h2v2h-2zM349 555h2v2h-2zM355 555h2v2h-2zM359 554h2v2h-2zM365 554h2v2h-2zM363 555h2v2h-2zM365 555h2v2h-2zM358 553h2v2h-2zM358 554h2v2h-2zM362 555h2v2h-2zM365 553h2v2h-2zM364 555h2v2h-2zM372 554h2v2h-2zM376 555h2v2h-2zM374 556h2v2h-2zM370 553h2v2h-2zM372 555h2v2h-2zM368 555h2v2h-2zM377 554h2v2h-2zM373 555h2v2h-2zM371 554h2v2h-2zM369 555h2v2h-2zM268 541h2v2h-2zM248 551h2v2h-2zM267 534h2v2h-2zM262 554h2v2h-2zM271 543h2v2h-2zM259 545h2v2h-2zM250 533h2v2h-2zM250 548h2v2h-2zM256 544h2v2h-2zM257 543h2v2h-2zM249 528h2v2h-2zM274 538h2v2h-2zM248 546h2v2h-2zM268 532h2v2h-2zM262 537h2v2h-2zM260 528h2v2h-2zM246 557h2v2h-2zM270 542h2v2h-2zM261 535h2v2h-2zM268 540h2v2h-2zM272 550h2v2h-2zM269 556h2v2h-2zM252 528h2v2h-2zM251 532h2v2h-2zM247 529h2v2h-2zM261 553h2v2h-2zM258 555h2v2h-2zM271 529h2v2h-2zM237 540h2v2h-2zM227 556h2v2h-2zM230 545h2v2h-2zM238 556h2v2h-2zM238 540h2v2h-2zM234 533h2v2h-2zM244 557h2v2h-2zM379 526h2v2h-2zM379 536h2v2h-2zM384 552h2v2h-2zM384 526h2v2h-2zM383 546h2v2h-2zM382 555h2v2h-2zM378 529h2v2h-2zM383 553h2v2h-2zM383 534h2v2h-2zM382 548h2v2h-2zM378 535h2v2h-2zM379 529h2v2h-2zM381 530h2v2h-2zM379 529h2v2h-2zM383 525h2v2h-2zM383 531h2v2h-2zM378 553h2v2h-2zM379 553h2v2h-2zM390 552h2v2h-2zM386 538h2v2h-2zM386 553h2v2h-2zM390 544h2v2h-2z"/>
<g shape-rendering="crispEdges">
<g stroke="#0000ff" stroke-width="1" stroke-dasharray="2 1" stroke-dashoffset="1"><line x1="122.5" y1="72" x2="122.5" y2="638" /><line x1="173.5" y1="72" x2="173.5" y2="638" /><line x1="224.5" y1="72" x2="224.5" y2="638" /><line x1="275.5" y1="72" x2="275.5" y2="638" /><line x1="326.5" y1="72" x2="326.5" y2="638" /><line x1="377.5" y1="72" x2="377.5" y2="638" /><line x1="428.5" y1="72" x2="428.5" y2="638" /><line x1="479.5" y1="72" x2="479.5" y2="638" /><line x1="530.5" y1="72" x2="530.5" y2="638" /></g>
<g stroke="#0000ff" stroke-width="1" stroke-dasharray="2 1" stroke-dashoffset="2"><line x1="72" y1="581.5" x2="581" y2="581.5" /><line x1="72" y1="524.5" x2="581" y2="524.5" /><line x1="72" y1="468.5" x2="581" y2="468.5" /><line x1="72" y1="411.5" x2="581" y2="411.5" /><line x1="72" y1="354.5" x2="581" y2="354.5" /><line x1="72" y1="298.5" x2="581" y2="298.5" /><line x1="72" y1="241.5" x2="581" y2="241.5" /><line x1="72" y1="184.5" x2="581" y2="184.5" /><line x1="72" y1="127.5" x2="581" y2="127.5" /></g>
<rect x="71" y="71" width="511" height="1" fill="#0000ff"/>
<rect x="71" y="71" width="1" height="568" fill="#0000ff"/>
<rect x="581" y="71" width="1" height="568" fill="#0000ff"/>
<g stroke="#000" stroke-width="1" stroke-dasharray="1 2">
<line x1="81" y1="71.5" x2="354" y2="71.5"/>
<line x1="71.5" y1="73" x2="71.5" y2="638"/>
<line x1="581.5" y1="94" x2="581.5" y2="638"/>
</g>
<rect x="71" y="638" width="511" height="1" fill="#000"/>
<g fill="#0000ff"><rect x="81" y="633" width="1" height="5"/><rect x="91" y="633" width="1" height="5"/><rect x="101" y="633" width="1" height="5"/><rect x="111" y="633" width="1" height="5"/><rect x="122" y="628" width="1" height="10"/><rect x="132" y="633" width="1" height="5"/><rect x="142" y="633" width="1" height="5"/><rect x="152" y="633" width="1" height="5"/><rect x="162" y="633" width="1" height="5"/><rect x="173" y="628" width="1" height="10"/><rect x="183" y="633" width="1" height="5"/><rect x="193" y="633" width="1" height="5"/><rect x="203" y="633" width="1" height="5"/><rect x="213" y="633" width="1" height="5"/><rect x="224" y="628" width="1" height="10"/><rect x="234" y="633" width="1" height="5"/><rect x="244" y="633" width="1" height="5"/><rect x="254" y="633" width="1" height="5"/><rect x="264" y="633" width="1" height="5"/><rect x="275" y="628" width="1" height="10"/><rect x="285" y="633" width="1" height="5"/><rect x="295" y="633" width="1" height="5"/><rect x="305" y="633" width="1" height="5"/><rect x="315" y="633" width="1" height="5"/><rect x="326" y="628" width="1" height="10"/><rect x="336" y="633" width="1" height="5"/><rect x="346" y="633" width="1" height="5"/><rect x="356" y="633" width="1" height="5"/><rect x="366" y="633" width="1" height="5"/><rect x="377" y="628" width="1" height="10"/><rect x="387" y="633" width="1" height="5"/><rect x="397" y="633" width="1" height="5"/><rect x="407" y="633" width="1" height="5"/><rect x="417" y="633" width="1" height="5"/><rect x="428" y="628" width="1" height="10"/><rect x="438" y="633" width="1" height="5"/><rect x="448" y="633" width="1" height="5"/><rect x="458" y="633" width="1" height="5"/><rect x="468" y="633" width="1" height="5"/><rect x="479" y="628" width="1" height="10"/><rect x="489" y="633" width="1" height="5"/><rect x="499" y="633" width="1" height="5"/><rect x="509" y="633" width="1" height="5"/><rect x="519" y="633" width="1" height="5"/><rect x="530" y="628" width="1" height="10"/><rect x="540" y="633" width="1" height="5"/><rect x="550" y="633" width="1" height="5"/><rect x="560" y="633" width="1" height="5"/><rect x="570" y="633" width="1" height="5"/><rect x="71" y="626" width="5" height="1"/><rect x="71" y="615" width="5" height="1"/><rect x="71" y="604" width="5" height="1"/><rect x="71" y="592" width="5" height="1"/><rect x="71" y="581" width="10" height="1"/><rect x="71" y="570" width="5" height="1"/><rect x="71" y="558" width="5" height="1"/><rect x="71" y="547" width="5" height="1"/><rect x="71" y="536" width="5" height="1"/><rect x="71" y="524" width="10" height="1"/><rect x="71" y="513" width="5" height="1"/><rect x="71" y="502" width="5" height="1"/><rect x="71" y="490" width="5" height="1"/><rect x="71" y="479" width="5" height="1"/><rect x="71" y="468" width="10" height="1"/><rect x="71" y="456" width="5" height="1"/><rect x="71" y="445" width="5" height="1"/><rect x="71" y="434" width="5" height="1"/><rect x="71" y="422" width="5" height="1"/><rect x="71" y="411" width="10" height="1"/><rect x="71" y="400" width="5" height="1"/><rect x="71" y="388" width="5" height="1"/><rect x="71" y="377" width="5" height="1"/><rect x="71" y="366" width="5" height="1"/><rect x="71" y="354" width="10" height="1"/><rect x="71" y="343" width="5" height="1"/><rect x="71" y="332" width="5" height="1"/><rect x="71" y="320" width="5" height="1"/><rect x="71" y="309" width="5" height="1"/><rect x="71" y="298" width="10" height="1"/><rect x="71" y="286" width="5" height="1"/><rect x="71" y="275" width="5" height="1"/><rect x="71" y="264" width="5" height="1"/><rect x="71" y="252" width="5" height="1"/><rect x="71" y="241" width="10" height="1"/><rect x="71" y="230" width="5" height="1"/><rect x="71" y="218" width="5" height="1"/><rect x="71" y="207" width="5" height="1"/><rect x="71" y="195" width="5" height="1"/><rect x="71" y="184" width="10" height="1"/><rect x="71" y="173" width="5" height="1"/><rect x="71" y="161" width="5" height="1"/><rect x="71" y="150" width="5" height="1"/><rect x="71" y="139" width="5" height="1"/><rect x="71" y="127" width="10" height="1"/><rect x="71" y="116" width="5" height="1"/><rect x="71" y="105" width="5" height="1"/><rect x="71" y="93" width="5" height="1"/><rect x="71" y="82" width="5" height="1"/></g>
<g fill="#0000ff"><rect x="354" y="71" width="228" height="1"/><rect x="354" y="93" width="228" height="1"/><rect x="354" y="71" width="1" height="23"/><rect x="581" y="71" width="1" height="23"/></g>
</g>
<g fill="#0000ff" font-family="Liberation Sans, Arial, Helvetica, sans-serif">
<text x="311.8" y="45.8" text-anchor="middle" font-family="Liberation Serif, Times New Roman, serif" font-weight="bold" font-size="25" textLength="322.5" lengthAdjust="spacingAndGlyphs">HSTPHOT: Field lmc_u5ay12</text>
<text x="60.8" y="642.5" text-anchor="end" font-size="12.2">0</text>
<text x="60.8" y="585.8" text-anchor="end" font-size="12.2">0.5</text>
<text x="60.8" y="529.1" text-anchor="end" font-size="12.2">1</text>
<text x="60.8" y="472.4" text-anchor="end" font-size="12.2">1.5</text>
<text x="60.8" y="415.7" text-anchor="end" font-size="12.2">2</text>
<text x="60.8" y="359.0" text-anchor="end" font-size="12.2">2.5</text>
<text x="60.8" y="302.3" text-anchor="end" font-size="12.2">3</text>
<text x="60.8" y="245.6" text-anchor="end" font-size="12.2">3.5</text>
<text x="60.8" y="188.9" text-anchor="end" font-size="12.2">4</text>
<text x="60.8" y="132.2" text-anchor="end" font-size="12.2">4.5</text>
<text x="60.8" y="75.5" text-anchor="end" font-size="12.2">5</text>
<text x="71.5" y="651.8" text-anchor="middle" font-size="12.2">19</text>
<text x="122.5" y="651.8" text-anchor="middle" font-size="12.2">20</text>
<text x="173.5" y="651.8" text-anchor="middle" font-size="12.2">21</text>
<text x="224.5" y="651.8" text-anchor="middle" font-size="12.2">22</text>
<text x="275.5" y="651.8" text-anchor="middle" font-size="12.2">23</text>
<text x="326.5" y="651.8" text-anchor="middle" font-size="12.2">24</text>
<text x="377.5" y="651.8" text-anchor="middle" font-size="12.2">25</text>
<text x="428.5" y="651.8" text-anchor="middle" font-size="12.2">26</text>
<text x="479.5" y="651.8" text-anchor="middle" font-size="12.2">27</text>
<text x="530.5" y="651.8" text-anchor="middle" font-size="12.2">28</text>
<text x="581.5" y="651.8" text-anchor="middle" font-size="12.2">29</text>
<text x="291.9" y="675.7" font-size="22" textLength="68.2" lengthAdjust="spacingAndGlyphs" stroke="#fff" stroke-width="0.5" style="mix-blend-mode:multiply">F814W</text>
<text transform="translate(29.1,101.8) rotate(-90)" font-size="22" textLength="31.5" lengthAdjust="spacingAndGlyphs" stroke="#fff" stroke-width="0.5" style="mix-blend-mode:multiply">chi</text>
<text x="83.3" y="93.7" font-size="16" textLength="31.9" lengthAdjust="spacingAndGlyphs" stroke="#fff" stroke-width="0.2" style="mix-blend-mode:multiply">WF2</text>
<text x="366.3" y="89" font-size="18" textLength="66.3" lengthAdjust="spacingAndGlyphs" stroke="#fff" stroke-width="0.35" style="mix-blend-mode:multiply">ENTRIES</text>
<text x="570" y="88.8" text-anchor="end" font-size="18" textLength="42.3" lengthAdjust="spacingAndGlyphs" stroke="#fff" stroke-width="0.4" style="mix-blend-mode:multiply">2905</text>
<text x="570" y="88.8" text-anchor="end" font-size="18" textLength="42.3" lengthAdjust="spacingAndGlyphs" stroke="#fff" stroke-width="0.4" style="mix-blend-mode:multiply">1976</text>
</g>
</svg>
</body></html>
